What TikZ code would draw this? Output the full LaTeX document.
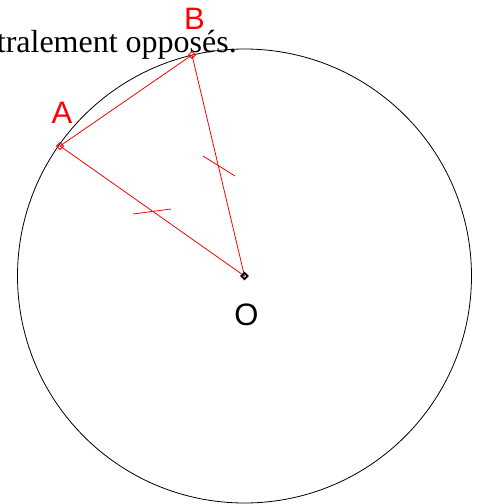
\documentclass[tikz,border=0pt]{standalone}
\usepackage{fontspec}
\setmainfont{Liberation Serif}
\newfontfamily\labfont{Liberation Sans}
\begin{document}
\begin{tikzpicture}[x=1pt,y=-1pt,
  seg/.style={red, line width=0.8pt},
  tick/.style={red, line width=0.8pt},
  ptmark/.style={draw=red, line width=0.8pt, rectangle, inner sep=0pt, minimum size=5pt, rotate=45},
  lab/.style={font=\labfont\fontsize{31}{31}\selectfont, inner sep=0pt, anchor=base}]
\useasboundingbox (0,0) rectangle (480,504);
\coordinate (O) at (244.5,276);
\coordinate (A) at (60,146);
\coordinate (B) at (192,55);
\draw[line width=0.8pt] (O) circle (227);
\node[anchor=base east, inner sep=0pt, font=\fontsize{32}{32}\selectfont] (txt) at (237,52) {tralement opposés.};
\draw[seg] (A) -- (B) -- (O) -- cycle;
\coordinate (t1a) at (133,214);
\coordinate (t1b) at (171,209);
\coordinate (t2a) at (203,156);
\coordinate (t2b) at (235,176);
\draw[tick] (t1a) -- (t1b);
\draw[tick] (t2a) -- (t2b);
\node[ptmark] (mA) at (A) {};
\node[ptmark] (mB) at (B) {};
\node[ptmark, draw=black, line width=1.8pt, minimum size=4.5pt] (mO) at (O) {};
\node[lab, red] (lA) at (62,123) {A};
\node[lab, red] (lB) at (194.5,29.5) {B};
\node[lab, black] (lO) at (246.5,325) {O};
\end{tikzpicture}
\end{document}
